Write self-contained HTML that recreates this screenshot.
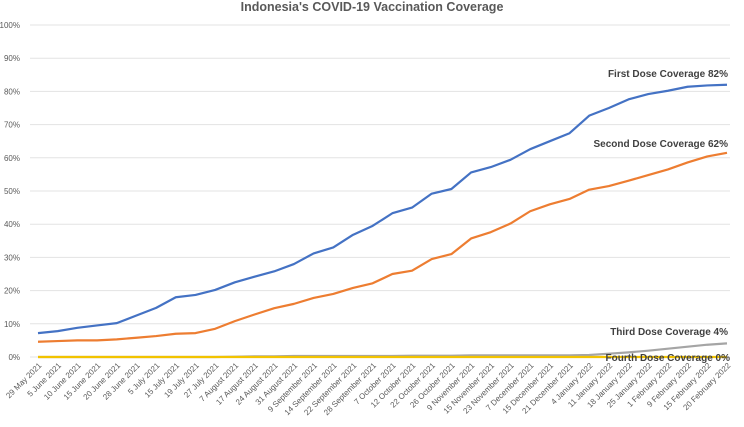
<!DOCTYPE html>
<html><head><meta charset="utf-8"><style>
body{margin:0;background:#fff;width:744px;height:422px;overflow:hidden;font-family:"Liberation Sans",sans-serif}
</style></head><body>
<svg id="c" width="744" height="422" xmlns="http://www.w3.org/2000/svg">
<text x="372" y="11" text-anchor="middle" font-size="12.5" font-weight="bold" fill="#595959">Indonesia's COVID-19 Vaccination Coverage</text>
<g id="grid"></g><g id="xl"></g><g id="lines"></g>
<text x="728" y="77" text-anchor="end" font-size="10" font-weight="bold" fill="#404040">First Dose Coverage 82%</text>
<text x="728" y="147" text-anchor="end" font-size="10" font-weight="bold" fill="#404040">Second Dose Coverage 62%</text>
<text x="728" y="335" text-anchor="end" font-size="10" font-weight="bold" fill="#404040">Third Dose Coverage 4%</text>
<text x="730" y="361" text-anchor="end" font-size="10" font-weight="bold" fill="#404040">Fourth Dose Coverage 0%</text>
</svg>
<script>
const categories=["29 May 2021","5 June 2021","10 June 2021","15 June 2021","20 June 2021","28 June 2021","5 July 2021","15 July 2021","19 July 2021","27 July 2021","7 August 2021","17 August 2021","24 August 2021","31 August 2021","9 September 2021","14 September 2021","22 September 2021","28 September 2021","7 October 2021","12 October 2021","22 October 2021","26 October 2021","9 November 2021","15 November 2021","23 November 2021","7 December 2021","15 December 2021","21 December 2021","4 January 2022","11 January 2022","18 January 2022","25 January 2022","1 February 2022","9 February 2022","15 February 2022","20 February 2022"];
const firstDose=[7.2,7.8,8.8,9.5,10.2,12.5,14.8,18,18.7,20.2,22.5,24.2,25.8,28,31.2,33,36.8,39.5,43.3,45,49.2,50.6,55.6,57.2,59.4,62.6,65,67.4,72.7,75,77.6,79.2,80.2,81.4,81.8,82];
const secondDose=[4.6,4.8,5,5,5.3,5.8,6.3,7,7.2,8.5,10.8,12.8,14.7,16,17.8,19,20.8,22.2,25,26,29.5,31,35.7,37.6,40.2,43.9,46,47.6,50.4,51.5,53.1,54.8,56.5,58.6,60.4,61.5];
const thirdDose=[0,0,0,0,0,0,0,0,0,0,0.1,0.2,0.2,0.3,0.3,0.3,0.3,0.3,0.3,0.4,0.4,0.4,0.5,0.5,0.5,0.5,0.5,0.5,0.6,1.0,1.4,1.9,2.5,3.1,3.7,4.1];
const fourthDose=[0,0,0,0,0,0,0,0,0,0,0,0,0,0,0,0,0,0,0,0,0,0,0,0,0,0,0,0,0,0,0,0,0,0,0,0];
const yTicks=[0,10,20,30,40,50,60,70,80,90,100];
const NS="http://www.w3.org/2000/svg";
const x0=38,x1=727,y0=357,y100=25;
const X=i=>x0+i*(x1-x0)/(categories.length-1);
const Y=v=>y0-(v/100)*(y0-y100);
function mk(t,a,p){const e=document.createElementNS(NS,t);for(const k in a)e.setAttribute(k,a[k]);p.appendChild(e);return e;}
const grid=document.getElementById('grid');
yTicks.forEach(v=>{
 const l=mk('line',{x1:30,x2:730,y1:Y(v),y2:Y(v),stroke:'#e3e3e3','stroke-width':1},grid);
 
 
 const t=mk('text',{x:20,y:Y(v)+3,'text-anchor':'end','font-size':8,fill:'#595959'},grid);
 t.textContent=v+'%';
 
 
});
const xl=document.getElementById('xl');
categories.forEach((c,i)=>{
 const t=mk('text',{x:X(i)+4,y:366,'text-anchor':'end','font-size':8,fill:'#595959',transform:`rotate(-45 ${X(i)+4} 366)`},xl);
 t.textContent=c;
 
 
});
const lines=document.getElementById('lines');
[[thirdDose,'#a5a5a5','third-dose-line'],[fourthDose,'#f2c300','fourth-dose-line'],[secondDose,'#ed7d31','second-dose-line'],[firstDose,'#4472c4','first-dose-line']].forEach(([d,col,n])=>{
 const p=mk('polyline',{points:d.map((v,i)=>X(i)+','+Y(v)).join(' '),fill:'none',stroke:col,'stroke-width':2.2,'stroke-linejoin':'round'},lines);
 
 
});
</script>
</body></html>
